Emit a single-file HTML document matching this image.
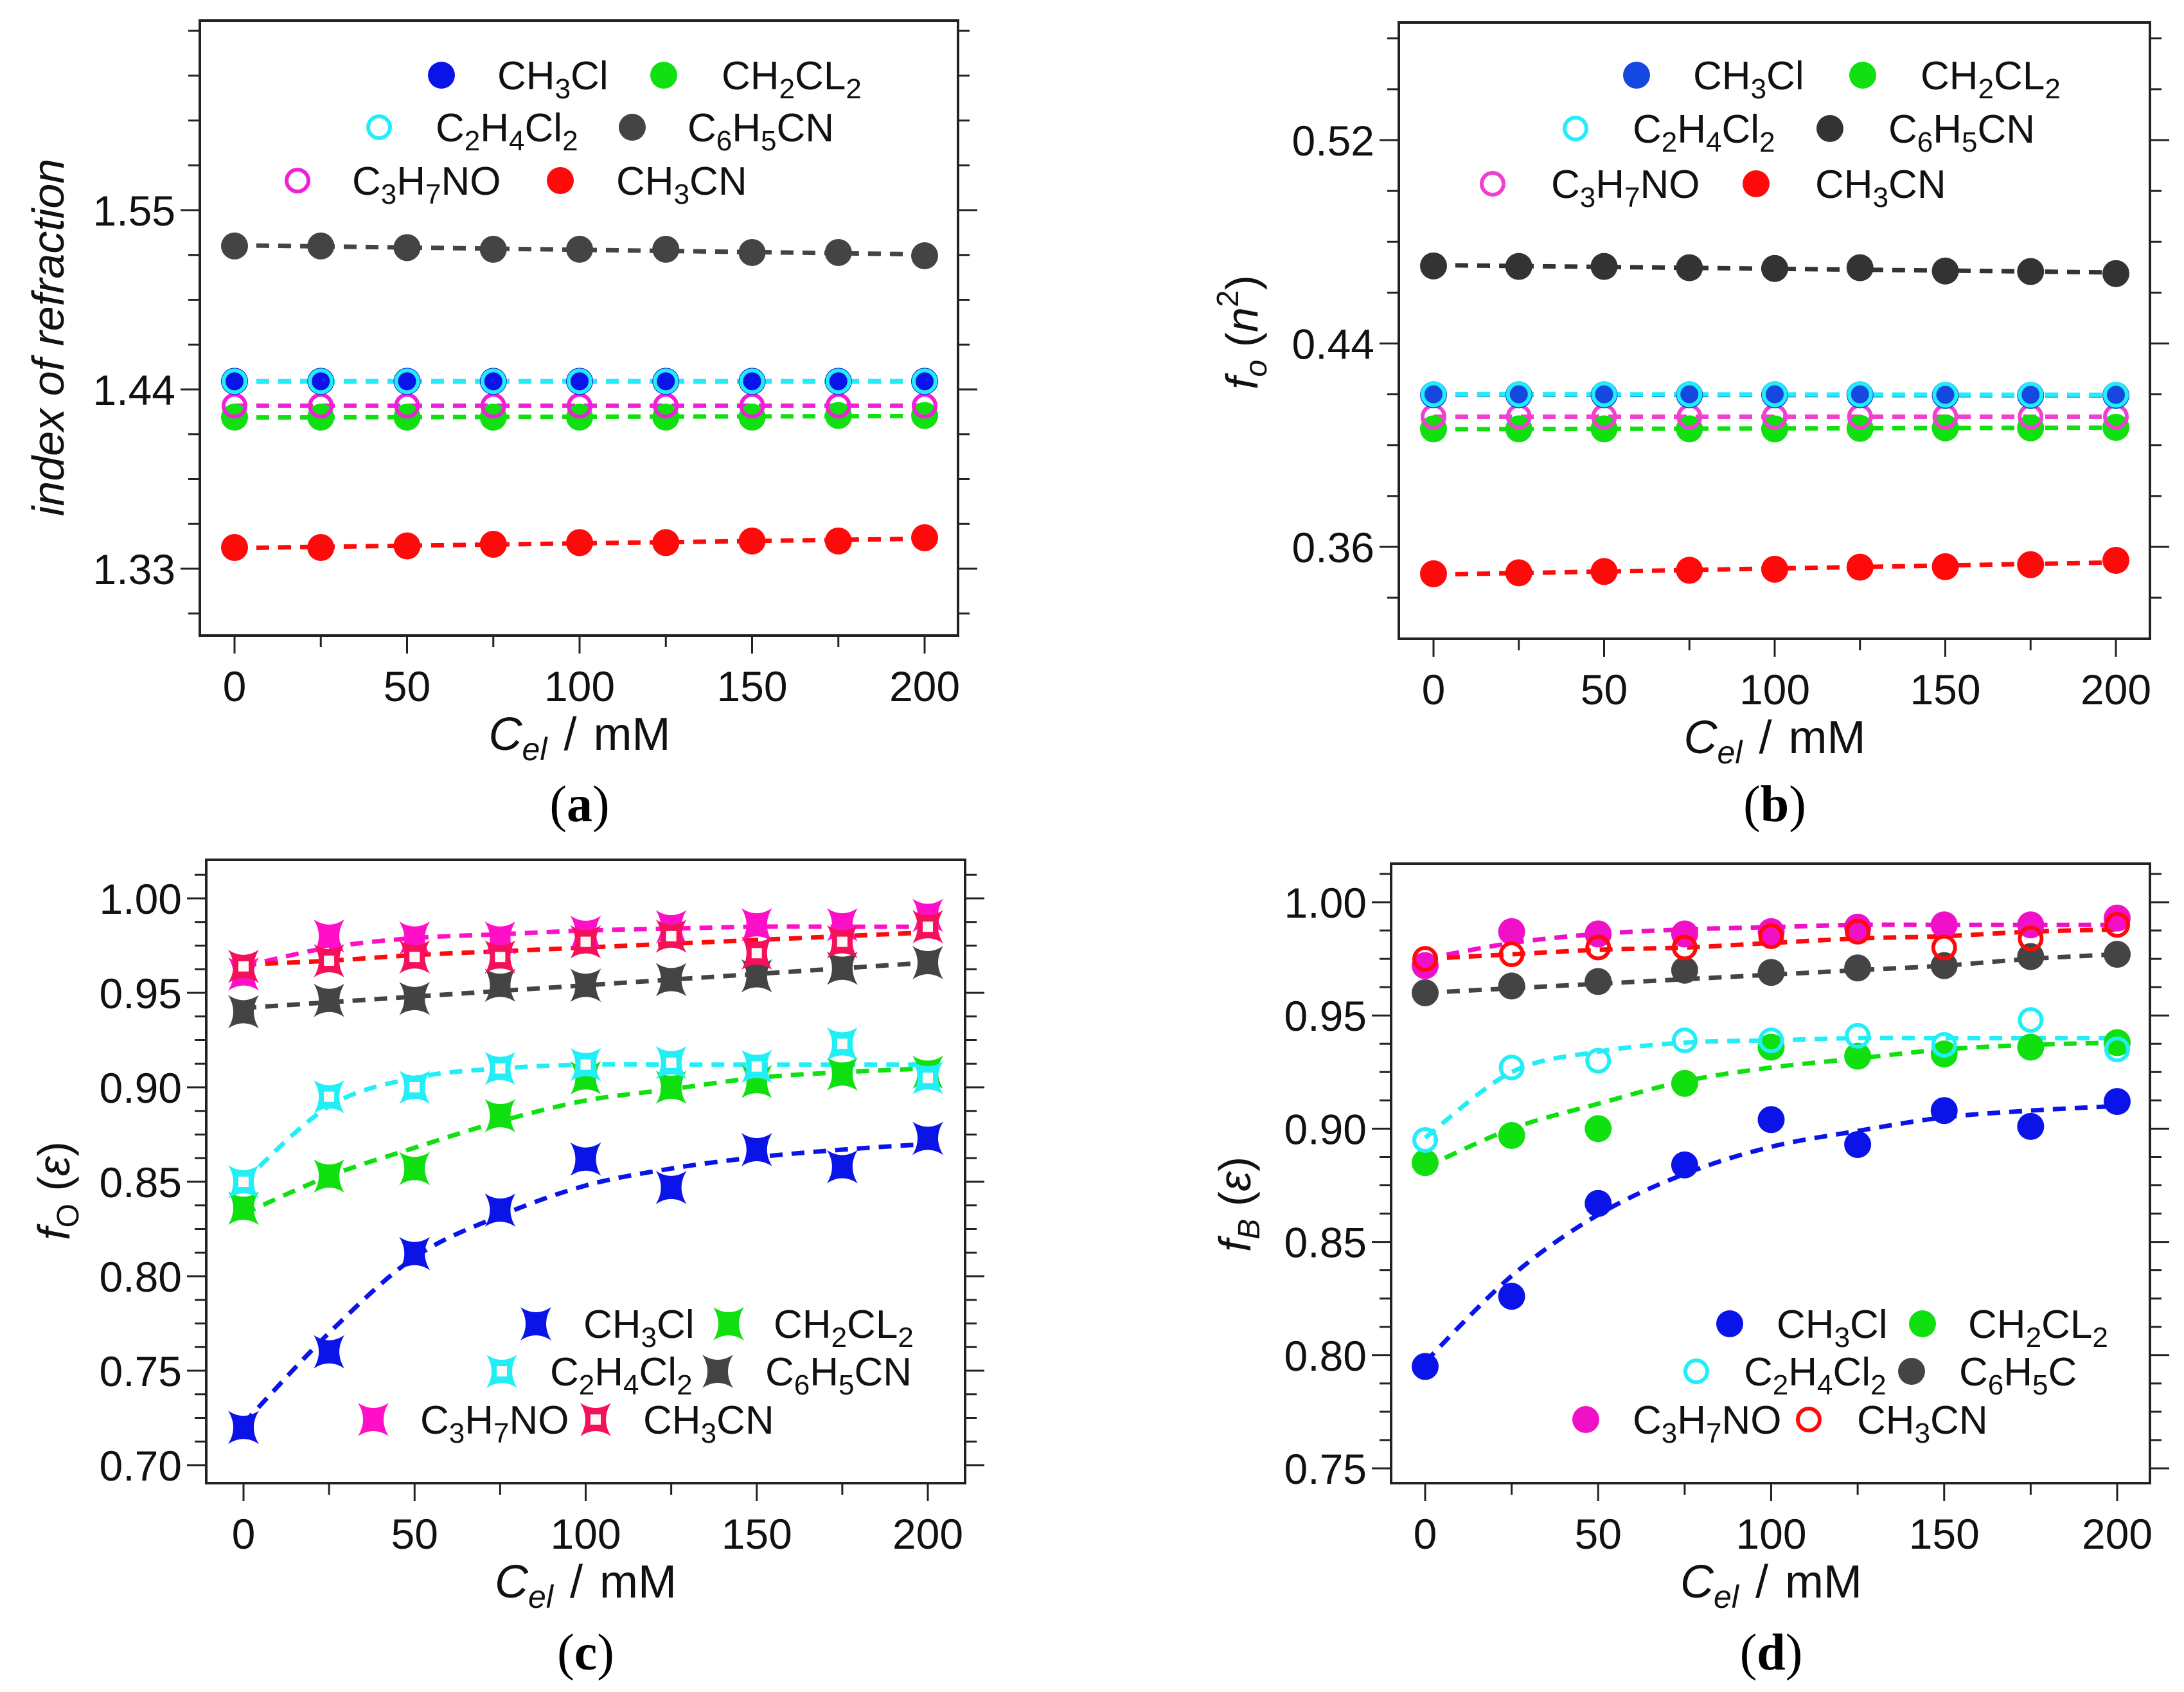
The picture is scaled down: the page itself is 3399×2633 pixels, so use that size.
<!DOCTYPE html>
<html><head><meta charset="utf-8"><style>
html,body{margin:0;padding:0;background:#fff;}
svg text{font-family:"Liberation Sans",sans-serif;}
svg text.serif{font-family:"Liberation Serif",serif;}
</style></head><body>
<svg id="fig" xmlns="http://www.w3.org/2000/svg" width="3399" height="2628" viewBox="0 0 3399 2628">
<rect width="3399" height="2628" fill="#fff"/>
</svg>
<script>
const NS='http://www.w3.org/2000/svg';
const svg=document.getElementById('fig');
const xVals=[0,25,50,75,100,125,150,175,200];
const xTicks=[0,50,100,150,200];
const seriesNames=['CH3Cl','CH2CL2','C2H4Cl2','C6H5CN','C3H7NO','CH3CN'];
// panel a: index of refraction
const aBlue=[1.445,1.445,1.445,1.445,1.445,1.445,1.445,1.445,1.445];
const aGreen=[1.423,1.423,1.423,1.423,1.423,1.423,1.423,1.424,1.424];
const aCyan=[1.445,1.445,1.445,1.445,1.445,1.445,1.445,1.445,1.445];
const aBlack=[1.528,1.528,1.527,1.526,1.526,1.526,1.524,1.524,1.522];
const aMagenta=[1.430,1.430,1.430,1.430,1.430,1.430,1.430,1.430,1.430];
const aRed=[1.343,1.343,1.344,1.345,1.346,1.346,1.347,1.347,1.349];
const aTicks=[1.33,1.44,1.55];
// panel b: fo(n^2)
const bBlue=[0.4198,0.4198,0.4198,0.4198,0.4198,0.4198,0.4196,0.4196,0.4196];
const bGreen=[0.4064,0.4064,0.4064,0.4064,0.4064,0.4066,0.4068,0.4068,0.4070];
const bCyan=[0.4200,0.4200,0.4200,0.4200,0.4200,0.4200,0.4198,0.4198,0.4198];
const bBlack=[0.4705,0.4703,0.4703,0.4698,0.4695,0.4698,0.4685,0.4683,0.4675];
const bMagenta=[0.4112,0.4112,0.4112,0.4112,0.4112,0.4112,0.4112,0.4112,0.4112];
const bRed=[0.3494,0.3498,0.3503,0.3508,0.3512,0.3520,0.3522,0.3530,0.3547];
const bTicks=[0.36,0.44,0.52];
// panel c: fo(eps)
const cBlue=[0.720,0.760,0.812,0.835,0.862,0.847,0.867,0.858,0.873];
const cGreen=[0.836,0.853,0.857,0.885,0.905,0.900,0.903,0.907,0.908];
const cCyan=[0.850,0.895,0.900,0.910,0.912,0.913,0.911,0.923,0.905];
const cBlack=[0.940,0.946,0.947,0.954,0.954,0.957,0.959,0.963,0.966];
const cMagenta=[0.960,0.980,0.979,0.979,0.982,0.985,0.986,0.986,0.991];
const cRed=[0.964,0.967,0.969,0.969,0.977,0.980,0.971,0.977,0.985];
const cFitBlue=[0.722,0.770,0.810,0.832,0.848,0.857,0.863,0.867,0.870];
const cFitGreen=[0.833,0.853,0.868,0.882,0.893,0.899,0.905,0.908,0.910];
const cFitCyan=[0.850,0.890,0.905,0.910,0.912,0.912,0.912,0.912,0.912];
const cFitBlack=[0.942,0.945,0.948,0.951,0.954,0.957,0.960,0.963,0.966];
const cFitMagenta=[0.964,0.974,0.979,0.981,0.983,0.984,0.985,0.985,0.985];
const cFitRed=[0.965,0.967,0.970,0.972,0.974,0.976,0.978,0.980,0.982];
const cTicks=[0.70,0.75,0.80,0.85,0.90,0.95,1.00];
// panel d: fB(eps)
const dBlue=[0.795,0.826,0.867,0.884,0.904,0.893,0.908,0.901,0.912];
const dGreen=[0.885,0.897,0.900,0.920,0.936,0.932,0.933,0.936,0.938];
const dCyan=[0.895,0.927,0.930,0.939,0.939,0.941,0.937,0.948,0.935];
const dBlack=[0.960,0.963,0.965,0.970,0.969,0.971,0.972,0.976,0.977];
const dMagenta=[0.972,0.987,0.986,0.986,0.987,0.989,0.990,0.990,0.993];
const dRed=[0.975,0.977,0.980,0.980,0.985,0.987,0.980,0.984,0.990];
const dFitBlue=[0.797,0.835,0.862,0.880,0.892,0.899,0.905,0.908,0.910];
const dFitGreen=[0.883,0.900,0.911,0.921,0.927,0.931,0.935,0.937,0.938];
const dFitCyan=[0.896,0.925,0.934,0.938,0.939,0.940,0.940,0.940,0.940];
const dFitBlack=[0.960,0.962,0.964,0.966,0.968,0.970,0.972,0.975,0.977];
const dFitMagenta=[0.975,0.982,0.986,0.988,0.989,0.990,0.990,0.990,0.990];
const dFitRed=[0.975,0.977,0.979,0.980,0.982,0.984,0.985,0.987,0.988];
const dTicks=[0.75,0.80,0.85,0.90,0.95,1.00];

function el(tag,attrs,parent){const e=document.createElementNS(NS,tag);for(const k in attrs)e.setAttribute(k,attrs[k]);(parent||svg).appendChild(e);return e;}

function linFit(v){const n=v.length;let sx=0,sy=0,sxx=0,sxy=0;for(let i=0;i<n;i++){sx+=xVals[i];sy+=v[i];sxx+=xVals[i]*xVals[i];sxy+=xVals[i]*v[i];}const m=(n*sxy-sx*sy)/(n*sxx-sx*sx);const b=(sy-m*sx)/n;return xVals.map(x=>b+m*x);}

function fmt(n){
  const parts=n.match(/\d+|\D+/g);let out='';let down=false;
  parts.forEach(p=>{
    if(/\d/.test(p)){out+=`<tspan font-size="44" dy="${down?0:14}">${p}</tspan>`;down=true;}
    else{out+=`<tspan dy="${down?-14:0}">${p}</tspan>`;down=false;}
  });
  return out;
}

function marker(g,type,x,y,s){
  if(type==='circle'){
    if(s.open) return el('circle',{cx:x,cy:y,r:17,fill:s.fillOpen||'none',stroke:s.c,'stroke-width':6},g);
    return el('circle',{cx:x,cy:y,r:21,fill:s.c},g);
  }
  const w=24,h=26,k=8;
  const d=`M${x-w},${y-h} Q${x},${y-h+k*2} ${x+w},${y-h} Q${x+w-k*2},${y} ${x+w},${y+h} Q${x},${y+h-k*2} ${x-w},${y+h} Q${x-w+k*2},${y} ${x-w},${y-h}Z`;
  if(s.open){const gg=el('g',{},g);el('path',{d:d,fill:s.c},gg);el('rect',{x:x-8,y:y-8,width:16,height:16,fill:'#fff8f4'},gg);return gg;}
  return el('path',{d:d,fill:s.c},g);
}

function panel(p){
  const g=el('g',{});
  
  
  const X=v=>p.x0+(v-0)/200*(p.x200-p.x0);
  const Y=v=>p.yB+(v-p.vB)/(p.vT-p.vB)*(p.yT-p.yB);
  const vAtT=p.vB+(p.T-p.yB)/(p.yT-p.yB)*(p.vT-p.vB);
  const vAtB=p.vB+(p.B-p.yB)/(p.yT-p.yB)*(p.vT-p.vB);
  const fr=el('rect',{x:p.L,y:p.T,width:p.R-p.L,height:p.B-p.T,fill:'none',stroke:'#222','stroke-width':4},g);
  
  
  for(let v=0;v<=200;v+=25){const x=X(v);el('line',{x1:x,y1:p.B,x2:x,y2:p.B+(v%50===0?28:18),stroke:'#222','stroke-width':3},g);}
  xTicks.forEach(v=>{const t=el('text',{x:X(v),y:p.B+102,'font-size':66,'text-anchor':'middle',fill:'#111'},g);t.textContent=v;
    
    });
  const base=p.ticks[0];
  const kmin=Math.ceil((vAtB-base)/p.minor-1e-6), kmax=Math.floor((vAtT-base)/p.minor+1e-6);
  for(let k=kmin;k<=kmax;k++){const v=base+k*p.minor;const y=Y(v);const maj=p.ticks.some(t=>Math.abs(t-v)<p.minor/3);const len=maj?30:18;
    el('line',{x1:p.L-len,y1:y,x2:p.L,y2:y,stroke:'#222','stroke-width':3},g);
    el('line',{x1:p.R,y1:y,x2:p.R+len,y2:y,stroke:'#222','stroke-width':3},g);}
  p.ticks.forEach(v=>{const t=el('text',{x:p.L-38,y:Y(v)+24,'font-size':66,'text-anchor':'end',fill:'#111'},g);t.textContent=v.toFixed(2);
    
    });
  const xt=el('text',{x:(p.x0+p.x200)/2,y:p.B+178,'font-size':72,'text-anchor':'middle',fill:'#111'},g);
  xt.innerHTML='<tspan font-style="italic">C</tspan><tspan font-style="italic" font-size="50" dy="16">el</tspan><tspan dy="-16" dx="26">/</tspan><tspan dx="26">mM</tspan>';
  
  
  const yt=el('text',{x:0,y:0,'font-size':70,'text-anchor':'middle',fill:'#111',transform:`translate(${p.ytx},${p.yty}) rotate(-90)`},g);
  yt.innerHTML=p.ytitle;
  
  
  const lab=el('text',{x:(p.x0+p.x200)/2,y:p.labY,'font-size':80,'text-anchor':'middle',fill:'#000','class':'serif'},g);
  lab.innerHTML='(<tspan font-weight="bold">'+p.letter+'</tspan>)';
  
  
  p.series.forEach(s=>{
    const fit=s.fit||linFit(s.data);
    const pts=xVals.map((x,i)=>[X(x),Y(fit[i])]);
    let d='M'+pts[0][0]+','+pts[0][1];
    for(let i=0;i<pts.length-1;i++){const p0=pts[Math.max(0,i-1)],p1=pts[i],p2=pts[i+1],p3=pts[Math.min(pts.length-1,i+2)];
      d+=` C${p1[0]+(p2[0]-p0[0])/6},${p1[1]+(p2[1]-p0[1])/6} ${p2[0]-(p3[0]-p1[0])/6},${p2[1]-(p3[1]-p1[1])/6} ${p2[0]},${p2[1]}`;}
    const ln=el('path',{d:d,fill:'none',stroke:s.lc||s.c,'stroke-width':7,'stroke-dasharray':'20 14'},g);
    
    
  });
  (p.order||[0,1,2,3,4,5]).forEach(si=>{const s=p.series[si];
    xVals.forEach((x,i)=>{const m=marker(g,p.mk,X(x),Y(s.data[i]),s);
      
      });
  });
  p.legend.forEach((row,ri)=>row.forEach(item=>{
    const s=p.series[item.i];
    const m=marker(g,p.mk,item.mx,p.ly[ri],s);
    
    
    const t=el('text',{x:item.tx,y:p.ly[ri]+22,'font-size':62,fill:'#111'},g);
    t.innerHTML=fmt(item.label||seriesNames[item.i]);
    
    
  }));
}

const C={blue:'#0a14e8',green:'#10e010',cyan:'#22eef8',black:'#444',mag:'#f020d8',red:'#ff0a0a'};

panel({name:'panel-a',letter:'a',L:311,R:1491,T:32,B:989,x0:365,x200:1439,yB:885,vB:1.33,yT:327,vT:1.55,minor:0.0275,ticks:aTicks,mk:'circle',
  ytx:99,yty:525,labY:1278,ytitle:'<tspan font-style="italic">index of refraction</tspan>',ly:[117,198,281],
  legend:[[{i:0,mx:687,tx:774},{i:1,mx:1033,tx:1123}],[{i:2,mx:590,tx:678},{i:3,mx:984,tx:1070}],[{i:4,mx:463,tx:548},{i:5,mx:872,tx:959}]],
  order:[1,4,0,2,3,5],
  series:[{key:'ch3cl',c:C.blue,data:aBlue},{key:'ch2cl2',c:C.green,data:aGreen},{key:'c2h4cl2',c:C.cyan,open:true,data:aCyan},{key:'c6h5cn',c:C.black,data:aBlack},{key:'c3h7no',c:C.mag,open:true,data:aMagenta},{key:'ch3cn',c:C.red,data:aRed}]});

panel({name:'panel-b',letter:'b',L:2177,R:3346,T:35,B:994,x0:2231,x200:3293,yB:851,vB:0.36,yT:218,vT:0.52,minor:0.02,ticks:bTicks,mk:'circle',
  ytx:1957,yty:517,labY:1278,ytitle:'<tspan font-style="italic">f</tspan><tspan font-style="italic" font-size="48" dy="14">o</tspan><tspan dy="-14"> (</tspan><tspan font-style="italic">n</tspan><tspan font-size="48" dy="-30">2</tspan><tspan dy="30">)</tspan>',
  ly:[117,200,286],
  legend:[[{i:0,mx:2547,tx:2635},{i:1,mx:2899,tx:2989}],[{i:2,mx:2452,tx:2541},{i:3,mx:2848,tx:2939}],[{i:4,mx:2323,tx:2414},{i:5,mx:2733,tx:2825}]],
  order:[1,4,0,2,3,5],
  series:[{key:'ch3cl',c:'#1448e0',data:bBlue},{key:'ch2cl2',c:C.green,data:bGreen},{key:'c2h4cl2',c:C.cyan,open:true,fillOpen:'none',data:bCyan},{key:'c6h5cn',c:'#333',data:bBlack},{key:'c3h7no',c:'#f040d0',open:true,fillOpen:'none',data:bMagenta},{key:'ch3cn',c:C.red,data:bRed}]});

panel({name:'panel-c',letter:'c',L:321,R:1502,T:1338,B:2308,x0:379,x200:1444,yB:2280,vB:0.70,yT:1398,vT:1.00,minor:0.0125,ticks:cTicks,mk:'star',
  ytx:108,yty:1853,labY:2598,ytitle:'<tspan font-style="italic">f</tspan><tspan font-size="48" dy="14">O</tspan><tspan dy="-14"> (</tspan><tspan font-style="italic">ε</tspan><tspan>)</tspan>',
  ly:[2060,2134,2209],
  legend:[[{i:0,mx:834,tx:908},{i:1,mx:1134,tx:1204}],[{i:2,mx:781,tx:856},{i:3,mx:1117,tx:1191}],[{i:4,mx:581,tx:654},{i:5,mx:927,tx:1001}]],
  order:[0,1,2,3,4,5],
  series:[{key:'ch3cl',c:C.blue,data:cBlue,fit:cFitBlue},{key:'ch2cl2',c:C.green,data:cGreen,fit:cFitGreen},{key:'c2h4cl2',c:C.cyan,open:true,data:cCyan,fit:cFitCyan},{key:'c6h5cn',c:C.black,data:cBlack,fit:cFitBlack},{key:'c3h7no',c:'#ff10c8',data:cMagenta,fit:cFitMagenta},{key:'ch3cn',c:'#f5105a',lc:C.red,open:true,data:cRed,fit:cFitRed}]});

panel({name:'panel-d',letter:'d',L:2165,R:3346,T:1344,B:2308,x0:2218,x200:3295,yB:2285,vB:0.75,yT:1404,vT:1.00,minor:0.0125,ticks:dTicks,mk:'circle',
  ytx:1946,yty:1874,labY:2598,ytitle:'<tspan font-style="italic">f</tspan><tspan font-style="italic" font-size="48" dy="14">B</tspan><tspan dy="-14"> (</tspan><tspan font-style="italic">ε</tspan><tspan>)</tspan>',
  ly:[2060,2134,2209],
  legend:[[{i:0,mx:2692,tx:2765},{i:1,mx:2992,tx:3063}],[{i:2,mx:2640,tx:2714},{i:3,mx:2975,tx:3049,label:'C6H5C'}],[{i:4,mx:2468,tx:2541},{i:5,mx:2815,tx:2890}]],
  order:[0,1,2,3,4,5],
  series:[{key:'ch3cl',c:C.blue,data:dBlue,fit:dFitBlue},{key:'ch2cl2',c:C.green,data:dGreen,fit:dFitGreen},{key:'c2h4cl2',c:C.cyan,open:true,data:dCyan,fit:dFitCyan},{key:'c6h5cn',c:C.black,data:dBlack,fit:dFitBlack},{key:'c3h7no',c:'#f010c8',data:dMagenta,fit:dFitMagenta},{key:'ch3cn',c:C.red,open:true,data:dRed,fit:dFitRed}]});
</script>
</body></html>
